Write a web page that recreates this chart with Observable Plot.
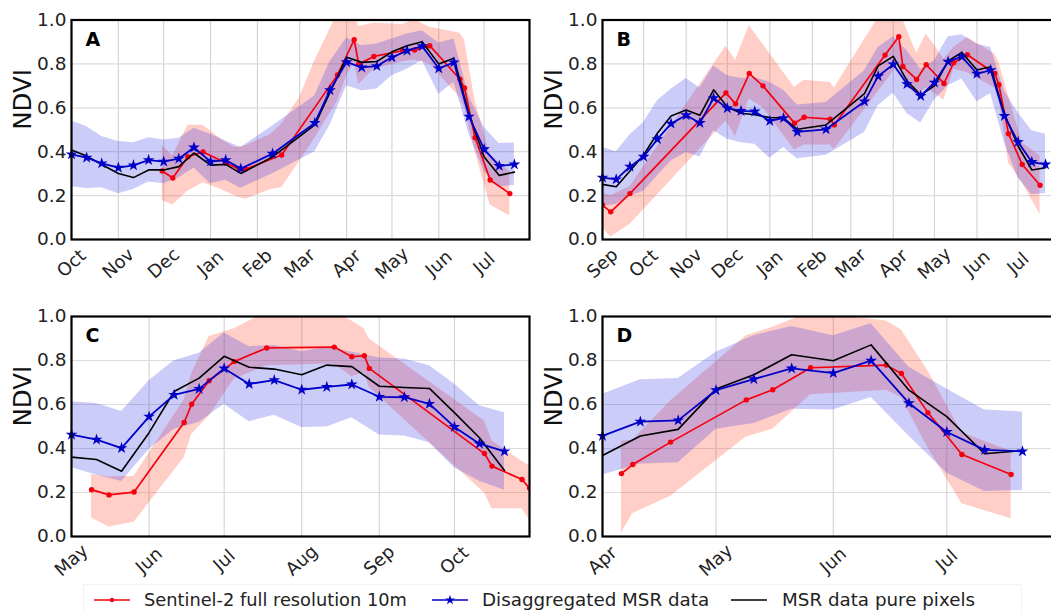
<!DOCTYPE html>
<html><head><meta charset="utf-8">
<script src="https://cdn.jsdelivr.net/npm/d3@7"></script>
<script src="https://cdn.jsdelivr.net/npm/@observablehq/plot@0.6"></script>
<style>
html,body{margin:0;padding:0;background:#fff;overflow:hidden;width:1051px;height:613px}
body{font-family:"DejaVu Sans",sans-serif;position:relative}
.panel{position:absolute}
.panel svg{overflow:hidden;background:transparent;max-width:none}
#legend{position:absolute;left:83px;top:584px;width:939px;height:29px;border:1px solid #f4f4f4;border-bottom:none;box-sizing:border-box;color:#222}
#legend span{position:absolute;top:4px;white-space:nowrap}
#legend svg{position:absolute;top:7px}
</style></head><body>
<div id="legend"></div>
<script>
const red="#f5000f", blue="#0000c8", black="#000";
const redFill="#ff3b20", blueFill="#2b2be6";

// Panel A
const aMsrDates=["10-01","10-11","10-21","11-01","11-11","11-21","12-01","12-11","12-21","01-01","01-11","01-21","02-11","03-11","03-21","04-01","04-11","04-21","05-01","05-11","05-21","06-01","06-11","06-21","07-01","07-11","07-21"];
const aBlue=[.388,.373,.347,.327,.338,.362,.355,.368,.419,.355,.362,.323,.391,.531,.68,.808,.784,.79,.83,.86,.881,.779,.807,.56,.411,.335,.342];
const aBlack=[.408,.38,.342,.301,.282,.317,.317,.332,.394,.339,.342,.301,.376,.522,.67,.83,.807,.811,.855,.883,.901,.799,.826,.571,.376,.292,.307];
const aBlueLow=[.24,.232,.236,.209,.228,.262,.254,.28,.326,.254,.27,.234,.30,.40,.52,.70,.678,.686,.746,.776,.815,.662,.716,.48,.31,.24,.246];
const aBlueHigh=[.54,.515,.469,.446,.441,.464,.453,.461,.507,.48,.449,.419,.517,.655,.81,.918,.883,.891,.913,.936,.951,.895,.913,.65,.51,.437,.44];
const aRedDates=["11-30","12-07","12-17","12-27","01-11","01-20","01-24","02-17","03-26","04-06","04-09","04-19","05-08","05-16","05-26","06-15","06-18","06-25","07-05","07-18"];
const aRed=[.312,.28,.377,.399,.35,.32,.32,.385,.75,.91,.799,.834,.86,.863,.883,.73,.69,.464,.271,.209];
const aBandDates=["11-30","12-07","12-17","12-27","01-08","01-17","01-24","02-10","02-17","03-01","03-10","03-26","04-01","04-06","04-09","04-19","05-08","05-16","05-26","06-15","06-18","06-25","07-05","07-18"];
const aRedLow=[.178,.157,.22,.259,.228,.198,.183,.228,.236,.358,.45,.63,.745,.81,.705,.776,.81,.817,.80,.647,.60,.40,.157,.107];
const aRedHigh=[.427,.38,.52,.52,.457,.419,.426,.48,.525,.647,.80,1.03,1.06,1.03,.97,.985,.979,1.0,.967,.94,.909,.632,.385,.31];
const aMonths=["10-01","11-01","12-01","01-01","02-01","03-01","04-01","05-01","06-01","07-01"];

// Panel B
const bMsrDates=["09-01","09-11","09-21","10-01","10-11","10-21","11-01","11-11","11-21","12-01","12-11","12-21","01-01","01-11","01-21","02-11","03-11","03-21","04-01","04-11","04-21","05-01","05-11","05-21","06-01","06-11","06-21","07-01","07-11","07-21"];
const bBlue=[.282,.274,.332,.377,.457,.528,.566,.531,.644,.598,.586,.583,.54,.553,.49,.502,.629,.744,.798,.708,.654,.715,.81,.833,.755,.772,.563,.444,.353,.342];
const bBlack=[.251,.24,.312,.385,.484,.563,.59,.566,.682,.604,.575,.568,.556,.553,.502,.522,.665,.791,.834,.723,.658,.70,.814,.852,.772,.787,.571,.426,.317,.327];
const bBlueLow=[.152,.16,.198,.22,.289,.358,.396,.376,.495,.457,.441,.434,.37,.419,.368,.384,.487,.609,.667,.574,.531,.635,.70,.731,.627,.665,.441,.28,.205,.21];
const bBlueHigh=[.419,.40,.476,.533,.632,.685,.734,.69,.791,.746,.734,.738,.715,.68,.613,.624,.769,.875,.924,.86,.776,.814,.924,.933,.89,.875,.677,.578,.495,.479];
const bRedDates=["09-01","09-07","09-21","11-30","12-07","12-17","12-27","01-19","01-26","02-14","02-17","03-26","04-05","04-08","04-18","04-25","05-08","05-15","05-25","06-14","06-17","06-24","07-04","07-17"];
const bRed=[.157,.126,.209,.668,.618,.756,.70,.53,.557,.548,.522,.84,.924,.788,.729,.796,.711,.805,.842,.756,.705,.482,.342,.247];
const bRedLow=[.053,.011,.068,.54,.47,.64,.60,.408,.43,.43,.41,.715,.80,.73,.654,.69,.635,.776,.76,.69,.647,.35,.259,.114];
const bRedHigh=[.21,.20,.24,.88,.817,.974,.89,.693,.726,.715,.69,1.06,1.0,1.0,.849,.936,.822,.875,.92,.845,.807,.654,.44,.38];
const bMonths=["09-01","10-01","11-01","12-01","01-01","02-01","03-01","04-01","05-01","06-01","07-01"];

// Panel C
const cMsrDates=["05-01","05-11","05-21","06-01","06-11","06-21","07-01","07-11","07-21","08-01","08-11","08-21","09-01","09-11","09-21","10-01","10-11","10-21"];
const cBlue=[.463,.44,.402,.545,.644,.671,.764,.693,.711,.667,.68,.691,.635,.633,.603,.498,.422,.387];
const cBlack=[.361,.35,.297,.472,.659,.72,.819,.769,.761,.735,.779,.772,.683,.677,.673,.563,.449,.30];
const cBlueLow=[.312,.279,.25,.396,.487,.518,.601,.522,.551,.495,.498,.54,.461,.457,.426,.312,.251,.21];
const cBlueHigh=[.613,.604,.568,.708,.799,.833,.925,.863,.868,.84,.86,.837,.811,.807,.776,.693,.594,.563];
const cRedDates=["05-09","05-16","05-26","06-15","06-18","06-25","07-05","07-18","08-14","08-21","08-26","08-28","10-13","10-16","10-28","10-31"];
const cRed=[.213,.189,.202,.518,.601,.708,.795,.857,.861,.817,.822,.764,.377,.32,.259,.22];
const cRedLow=[.084,.043,.065,.358,.464,.548,.715,.776,.784,.726,.746,.677,.198,.126,.126,.076];
const cRedHigh=[.282,.27,.274,.62,.74,.909,.944,1.02,1.02,.98,.944,.898,.525,.434,.342,.32];
const cMonths=["05-01","06-01","07-01","08-01","09-01","10-01"];

// Panel D
const dMsrDates=["04-01","04-11","04-21","05-01","05-11","05-21","06-01","06-11","06-21","07-01","07-11","07-21"];
const dBlue=[.457,.522,.528,.665,.715,.764,.743,.799,.606,.475,.394,.387];
const dBlack=[.368,.457,.487,.67,.735,.826,.799,.871,.665,.545,.376,.39];
const dBlueLow=[.279,.33,.335,.487,.514,.578,.575,.632,.457,.289,.205,.209];
const dBlueHigh=[.647,.712,.718,.837,.913,.954,.913,.967,.769,.67,.575,.566];
const dRedDates=["04-06","04-09","04-19","05-09","05-16","05-26","06-15","06-19","06-26","07-05","07-18"];
const dRed=[.286,.327,.429,.621,.667,.767,.779,.741,.563,.373,.282];
const dRedLow=[.015,.104,.183,.452,.487,.644,.665,.632,.403,.149,.081];
const dRedHigh=[.434,.437,.616,.913,.951,1.02,.979,.939,.753,.472,.388];
const dMonths=["04-01","05-01","06-01","07-01"];

const yTicks=[0,.2,.4,.6,.8,1];

function panel(o){
  const dt=s=>{const [m,d]=s.split("-").map(Number);
    return new Date(Date.UTC(m>=o.startMonth?2017:2018,m-1,d));};
  const msr=o.msrDates.map((d,i)=>({x:dt(d),blue:o.blue[i],black:o.black[i],lo:o.blueLow[i],hi:o.blueHigh[i]}));
  const redPts=o.redDates.map((d,i)=>({x:dt(d),v:o.red[i]}));
  const bandDates=o.bandDates||o.redDates;
  const band=bandDates.map((d,i)=>({x:dt(d),lo:o.redLow[i],hi:o.redHigh[i]}));
  const ticks=o.months.map(dt);
  const el=Plot.plot({
    width:o.width,height:o.height,
    marginLeft:o.ml,marginRight:o.mr,marginTop:o.mt,marginBottom:o.mb,
    style:{fontFamily:"DejaVu Sans",background:"transparent",color:"#222"},
    x:{type:"utc",domain:[dt(o.months[0]),dt(o.end)]},
    y:{domain:[0,1]},
    marks:[
      Plot.gridX(ticks,{stroke:"#d2d2d2",strokeOpacity:1,strokeWidth:1.1}),
      Plot.gridY(yTicks,{stroke:"#dcdcdc",strokeOpacity:1,strokeWidth:1.2}),
      Plot.areaY(band,{x:"x",y1:"lo",y2:"hi",fill:redFill,fillOpacity:.25,clip:true}),
      Plot.areaY(msr,{x:"x",y1:"lo",y2:"hi",fill:blueFill,fillOpacity:.24,clip:true}),
      Plot.line(redPts,{x:"x",y:"v",stroke:red,strokeWidth:1.7,clip:true}),
      Plot.dot(redPts,{x:"x",y:"v",fill:red,r:2.7,clip:true}),
      Plot.line(msr,{x:"x",y:"black",stroke:black,strokeWidth:1.6,clip:true}),
      Plot.line(msr,{x:"x",y:"blue",stroke:blue,strokeWidth:1.8,clip:true}),
      Plot.dot(msr,{x:"x",y:"blue",fill:blue,symbol:"star",r:3.7}),
      Plot.axisX(ticks,{tickSize:0,tickRotate:-42,textAnchor:"middle",lineAnchor:"middle",tickPadding:24,fontSize:18,tickFormat:d3.utcFormat("%b"),label:null}),
      Plot.axisY(yTicks,{tickSize:0,tickPadding:5,fontSize:18.5,tickFormat:d3.format(".1f"),label:null}),
      Plot.text(["NDVI"],{frameAnchor:"left",dx:-48,rotate:-90,fontSize:24.5,fill:"#111"}),
      Plot.text([o.letter],{frameAnchor:"top-left",dx:14,dy:12,fontSize:19,fontWeight:"bold",fill:"#000"}),
      Plot.frame({stroke:"#000",strokeWidth:2.2})
    ]
  });
  const w=document.createElement("div");
  w.className="panel";w.style.left=o.left+"px";w.style.top=o.top+"px";w.style.width=o.width+"px";
  w.appendChild(el);document.body.appendChild(w);
}

const leftCfg={left:0,width:534,ml:71,mr:5};
const rightCfg={left:530,width:530,ml:72,mr:4};
panel({...leftCfg,top:0,height:300,mt:19.5,mb:61,letter:"A",startMonth:10,end:"07-31",msrDates:aMsrDates,blue:aBlue,black:aBlack,blueLow:aBlueLow,blueHigh:aBlueHigh,redDates:aRedDates,red:aRed,bandDates:aBandDates,redLow:aRedLow,redHigh:aRedHigh,months:aMonths});
panel({...rightCfg,top:0,height:300,mt:19.5,mb:61,letter:"B",startMonth:9,end:"07-29",msrDates:bMsrDates,blue:bBlue,black:bBlack,blueLow:bBlueLow,blueHigh:bBlueHigh,redDates:bRedDates,red:bRed,redLow:bRedLow,redHigh:bRedHigh,months:bMonths});
panel({...leftCfg,top:300,height:300,mt:16,mb:64,letter:"C",startMonth:1,end:"10-31",msrDates:cMsrDates,blue:cBlue,black:cBlack,blueLow:cBlueLow,blueHigh:cBlueHigh,redDates:cRedDates,red:cRed,redLow:cRedLow,redHigh:cRedHigh,months:cMonths});
panel({...rightCfg,top:300,height:300,mt:16,mb:64,letter:"D",startMonth:1,end:"07-30",msrDates:dMsrDates,blue:dBlue,black:dBlack,blueLow:dBlueLow,blueHigh:dBlueHigh,redDates:dRedDates,red:dRed,redLow:dRedLow,redHigh:dRedHigh,months:dMonths});

// Legend
const legendItems=[
  {label:"Sentinel-2 full resolution 10m",color:red,marker:"dot",line:10,text:60,size:17.8},
  {label:"Disaggregated MSR data",color:blue,marker:"star",line:348,text:398,size:18.3},
  {label:"MSR data pure pixels",color:black,marker:null,line:647,text:698,size:18.3}
];
const lg=d3.select("#legend");
for(const it of legendItems){
  const s=lg.append("svg").attr("width",36).attr("height",16).style("left",it.line+"px");
  s.append("line").attr("x1",0).attr("x2",36).attr("y1",8).attr("y2",8).attr("stroke",it.color).attr("stroke-width",1.3);
  if(it.marker==="dot")s.append("circle").attr("cx",18).attr("cy",8).attr("r",2.2).attr("fill",it.color);
  if(it.marker==="star")s.append("path").attr("transform","translate(18,8)").attr("d",d3.symbol(d3.symbolStar,30)()).attr("fill",it.color);
  lg.append("span").style("left",it.text+"px").style("font-size",it.size+"px").text(it.label);
}
</script>
</body></html>
